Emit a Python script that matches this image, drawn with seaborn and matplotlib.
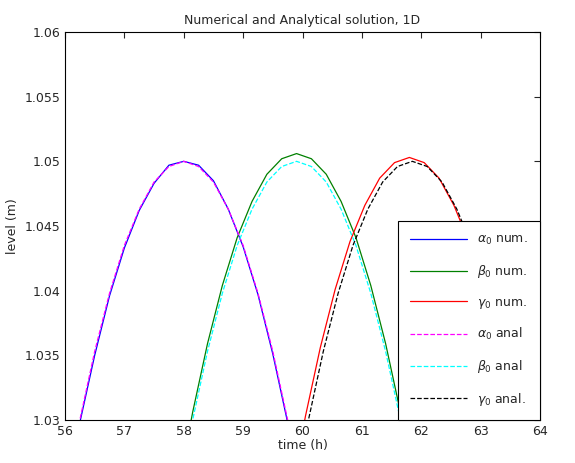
import numpy as np
import pandas as pd
import matplotlib
matplotlib.use("Agg")
import matplotlib.pyplot as plt
import seaborn as sns

sns.set_style("white")
plt.rcParams["font.family"] = ["DejaVu Sans"]

# ---- data
alpha_t = [56.0, 56.25, 56.5, 56.75, 57.0, 57.25, 57.5, 57.75, 58.0, 58.25, 58.5, 58.75, 59.0, 59.25, 59.5, 59.75, 60.0]
alpha_num = [1.0240, 1.0298, 1.0350, 1.0396, 1.0433, 1.0462, 1.0483, 1.0497, 1.0500, 1.0497, 1.0485, 1.0463, 1.0434, 1.0397, 1.0351, 1.0298, 1.0238]
alpha_anal = [1.0239, 1.0300, 1.0353, 1.0398, 1.0435, 1.0463, 1.0484, 1.0496, 1.0500, 1.0496, 1.0484, 1.0463, 1.0435, 1.0398, 1.0353, 1.0300, 1.0239]

beta_t = [57.9, 58.15, 58.4, 58.65, 58.9, 59.15, 59.4, 59.65, 59.9, 60.15, 60.4, 60.65, 60.9, 61.15, 61.4, 61.65, 61.9]
beta_num = [1.0245, 1.0306, 1.0359, 1.0404, 1.0441, 1.0469, 1.0490, 1.0502, 1.0506, 1.0502, 1.0490, 1.0469, 1.0441, 1.0404, 1.0359, 1.0306, 1.0245]
beta_anal = [1.0239, 1.0300, 1.0353, 1.0398, 1.0435, 1.0463, 1.0484, 1.0496, 1.0500, 1.0496, 1.0484, 1.0463, 1.0435, 1.0398, 1.0353, 1.0300, 1.0239]

gamma_num_t = [59.8, 60.05, 60.3, 60.55, 60.8, 61.05, 61.3, 61.55, 61.8, 62.05, 62.3, 62.55, 62.8, 63.05, 63.3, 63.55, 63.8]
gamma_num = [1.0242, 1.0303, 1.0356, 1.0401, 1.0438, 1.0466, 1.0487, 1.0499, 1.0503, 1.0499, 1.0487, 1.0466, 1.0438, 1.0401, 1.0356, 1.0303, 1.0242]
gamma_anal_t = [59.85, 60.1, 60.35, 60.6, 60.85, 61.1, 61.35, 61.6, 61.85, 62.1, 62.35, 62.6, 62.85, 63.1, 63.35, 63.6, 63.85]
gamma_anal = [1.0239, 1.0300, 1.0353, 1.0398, 1.0435, 1.0463, 1.0484, 1.0496, 1.0500, 1.0496, 1.0484, 1.0463, 1.0435, 1.0398, 1.0353, 1.0300, 1.0239]

series = [
    (alpha_t, alpha_num, r"$\alpha_0$ num.", "#0000ff", "-"),
    (beta_t, beta_num, r"$\beta_0$ num.", "#008000", "-"),
    (gamma_num_t, gamma_num, r"$\gamma_0$ num.", "#ff0000", "-"),
    (alpha_t, alpha_anal, r"$\alpha_0$ anal", "#ff00ff", "--"),
    (beta_t, beta_anal, r"$\beta_0$ anal", "#00ffff", "--"),
    (gamma_anal_t, gamma_anal, r"$\gamma_0$ anal.", "#000000", "--"),
]

fig = plt.figure(figsize=(5.75, 4.63), dpi=100)
ax = fig.add_axes([65 / 575, 43 / 463, 475 / 575, 388 / 463])

for t, y, label, color, ls in series:
    sns.lineplot(x=t, y=y, ax=ax, label=label, color=color, linestyle=ls, linewidth=0.9)

ax.set_xlim(56, 64)
ax.set_ylim(1.03, 1.06)
ax.set_xticks(np.arange(56, 65, 1))
ax.set_yticks([1.03, 1.035, 1.04, 1.045, 1.05, 1.055, 1.06])
ax.set_yticklabels(["1.03", "1.035", "1.04", "1.045", "1.05", "1.055", "1.06"])
ax.tick_params(direction="in", top=True, right=True, labelsize=9, length=4)
for s in ax.spines.values():
    s.set_linewidth(0.8)
    s.set_color("black")
ax.set_xlabel("time (h)", fontsize=9, labelpad=1)
ax.set_ylabel("level (m)", fontsize=9)
ax.set_title("Numerical and Analytical solution, 1D", fontsize=9)

leg = ax.legend(loc="lower right", fontsize=9, frameon=True, fancybox=False, framealpha=1,
                borderaxespad=0, handlelength=4.5, labelspacing=1.25, borderpad=1.0)
leg.get_frame().set_edgecolor("black")
leg.get_frame().set_linewidth(0.8)

fig.savefig("out.png", dpi=100)
